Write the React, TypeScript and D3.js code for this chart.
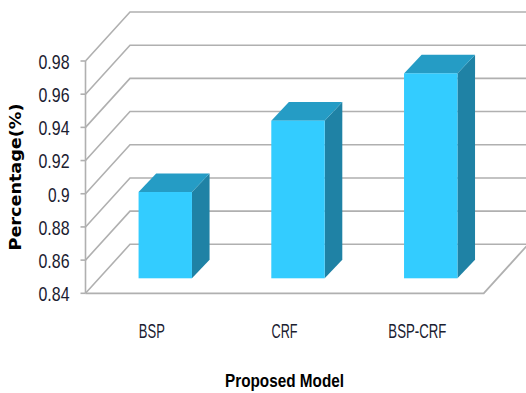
import React from "react";
import * as d3 from "d3";

const categories = ["BSP", "CRF", "BSP-CRF"];
const accuracy = [0.892, 0.935, 0.9635];
const tickValues = [0.84, 0.86, 0.88, 0.9, 0.92, 0.94, 0.96, 0.98];
const tickLabels = ["0.84", "0.86", "0.88", "0.9", "0.92", "0.94", "0.96", "0.98"];
// Condensed widths for the label text, in pixels.
const tickLabelWidths = [31, 31, 31, 21.5, 31, 31, 31, 31];
const categoryLabelWidths = [26, 26, 58];

const WIDTH = 526;
const HEIGHT = 393;
const left = 85.5;
const right = 483.7;
const bottom = 293.3;
const top = 61;
// Oblique offset from the front of the chart box to its back wall.
const depthX = 44.5;
const depthY = -49;
// Bars stand part-way into the box and have their own, shallower depth.
const barInsetX = 13.4;
const barInsetY = -15;
const barDepthX = 17.6;
const barDepthY = -18.6;
const barWidth = 53.4;

const FRONT = "#33ccff";
const TOP = "#259cc5";
const SIDE = "#1f82a5";
const GRID = "#b0b0b0";
const LABEL = "#1a2030";
const SANS = "'Liberation Sans', sans-serif";

const y = d3.scaleLinear().domain([0.84, 0.98]).range([bottom, top]);
const x = d3.scaleBand<string>().domain(categories).range([left, right]);

const poly = (pts: [number, number][]) => pts.map((p) => p.join(",")).join(" ");

export default function App() {
  const floorY = bottom + depthY;
  return (
    <svg
      width={WIDTH}
      height={HEIGHT}
      style={{ position: "absolute", left: 0, top: 0, background: "#fff" }}
    >
      {tickValues.map((t) => (
        <g key={t} fill="none" stroke={GRID} strokeWidth={1.6}>
          <polyline
            points={poly([
              [left, y(t)],
              [left + depthX, y(t) + depthY],
              [WIDTH + 4, y(t) + depthY],
            ])}
          />
          <line x1={left - 5} x2={left} y1={y(t)} y2={y(t)} />
        </g>
      ))}

      <line x1={left} x2={left} y1={top} y2={bottom} stroke={GRID} strokeWidth={1.6} />
      <polyline
        points={poly([
          [left, bottom],
          [right, bottom],
          [right + depthX, floorY],
        ])}
        fill="none"
        stroke={GRID}
        strokeWidth={1.8}
      />

      {categories.map((c, i) => {
        const x0 = (x(c) as number) + x.bandwidth() / 2 - barWidth / 2 + barInsetX;
        const x1 = x0 + barWidth;
        const yBase = bottom + barInsetY;
        const yTop = y(accuracy[i]) + barInsetY;
        return (
          <g key={c}>
            <polygon
              fill={SIDE}
              points={poly([
                [x1, yTop],
                [x1 + barDepthX, yTop + barDepthY],
                [x1 + barDepthX, yBase + barDepthY],
                [x1, yBase],
              ])}
            />
            <polygon
              fill={TOP}
              points={poly([
                [x0, yTop],
                [x0 + barDepthX, yTop + barDepthY],
                [x1 + barDepthX, yTop + barDepthY],
                [x1, yTop],
              ])}
            />
            <rect x={x0} y={yTop} width={barWidth} height={yBase - yTop} fill={FRONT} />
          </g>
        );
      })}

      {tickValues.map((t, i) => (
        <text
          key={t}
          x={69.5}
          y={y(t) + 7.8}
          textAnchor="end"
          fontFamily={SANS}
          fontSize={21}
          textLength={tickLabelWidths[i]}
          lengthAdjust="spacingAndGlyphs"
          fill={LABEL}
        >
          {tickLabels[i]}
        </text>
      ))}

      {categories.map((c, i) => (
        <text
          key={c}
          x={(x(c) as number) + x.bandwidth() / 2}
          y={337.5}
          textAnchor="middle"
          fontFamily={SANS}
          fontSize={20}
          textLength={categoryLabelWidths[i]}
          lengthAdjust="spacingAndGlyphs"
          fill={LABEL}
        >
          {c}
        </text>
      ))}

      <text
        x={284.5}
        y={386.5}
        textAnchor="middle"
        fontFamily={SANS}
        fontWeight="bold"
        fontSize={19}
        textLength={119}
        lengthAdjust="spacingAndGlyphs"
        fill="#000"
      >
        Proposed Model
      </text>
      <text
        transform="translate(21,177) rotate(-90)"
        textAnchor="middle"
        fontFamily="'DejaVu Sans', sans-serif"
        fontWeight="bold"
        fontSize={16}
        textLength={147}
        lengthAdjust="spacingAndGlyphs"
        fill="#000"
      >
        Percentage(%)
      </text>
    </svg>
  );
}
